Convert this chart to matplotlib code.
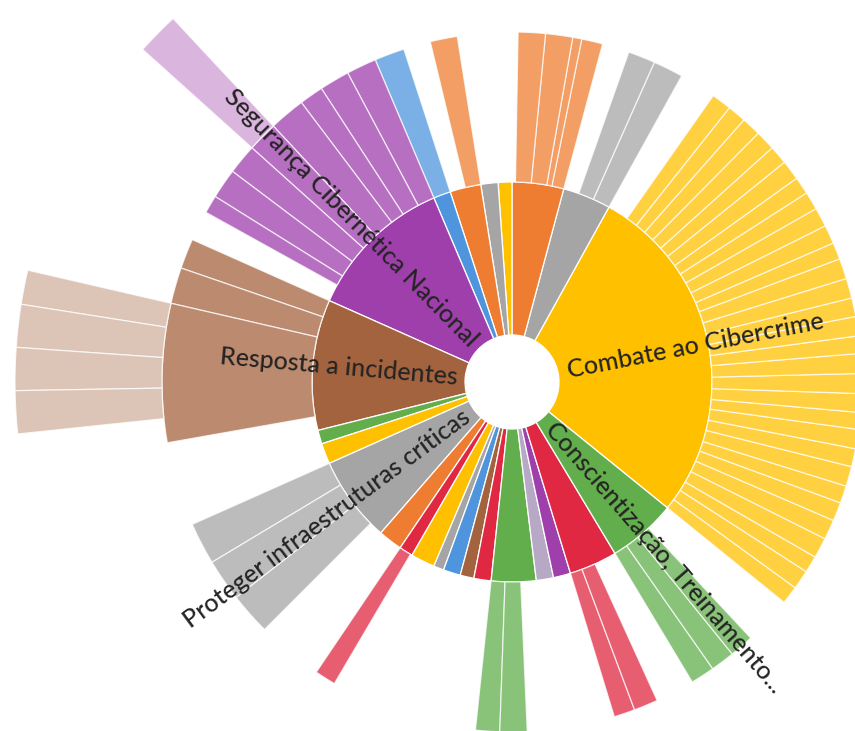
import numpy as np
import matplotlib.pyplot as plt
from matplotlib.colors import to_rgb

# ----------------------------
# Data (values are angular shares, in degrees)
# ----------------------------
start_angle = -39

cat_labels = ["Combate ao Cibercrime", "", "", "", "", "", "",
              "Segurança Cibernética Nacional", "Resposta a incidentes", "", "",
              "Proteger infraestruturas críticas", "", "", "", "", "", "", "", "",
              "", "", "", "Conscientização, Treinamento..."]
cat_values = [100, 14, 15, 4, 5, 9, 5, 43, 38, 4, 6, 25, 7, 4, 7, 3, 5, 4, 5, 13, 5, 5, 14, 20]
cat_colors = ['#FFC000', '#A5A5A5', '#EE7D31', '#FFC000', '#A5A5A5', '#EE7D31', '#4E95DD',
              '#9E3FAC', '#A4633F', '#62AE4C', '#FFC000', '#A5A5A5', '#EE7D31', '#E02842',
              '#FFC000', '#A5A5A5', '#4E95DD', '#A4633F', '#E02842', '#62AE4C', '#B7A8C6',
              '#9E3FAC', '#E02842', '#62AE4C']

# level 2 children, keyed by parent position in cat_values
sub_combate = [3.0, 3.2, 2.8, 3.4, 3.3, 3.1, 2.9, 3.3, 3.0, 3.2, 2.8, 3.1, 3.3, 3.3, 2.9,
               3.2, 3.1, 3.3, 3.4, 2.8, 3.1, 3.2, 3.0, 2.9, 3.3, 3.1, 3.3, 3.2, 3.1, 3.3]
sub_gray_top = [5, 4.5]
sub_orange_top = [3.5, 1.5, 4.5, 4.5]
sub_orange_small = [4.5]
sub_blue_top = [5]
sub_seguranca = [5, 5, 4, 6, 5, 5, 5, 3]
sub_resposta = [5, 6, 23]
sub_proteger = [7, 7, 7]
sub_red_small = [3.5]
sub_green_bottom = [4, 4.5]
sub_red_bottom = [3.5, 4]
sub_conscient = [4, 4, 4]

level2 = {0: sub_combate, 1: sub_gray_top, 2: sub_orange_top, 5: sub_orange_small,
          6: sub_blue_top, 7: sub_seguranca, 8: sub_resposta, 11: sub_proteger,
          13: sub_red_small, 19: sub_green_bottom, 22: sub_red_bottom, 23: sub_conscient}

# level 3 children, keyed by (parent, child)
sub3_seguranca = [5]
sub3_resposta = [4, 5, 5, 5]
level3 = {(7, 4): sub3_seguranca, (8, 2): sub3_resposta}

# ----------------------------
# Helpers
# ----------------------------
def lighten(c, f):
    r, g, b = to_rgb(c)
    return (r + (1 - r) * f, g + (1 - g) * f, b + (1 - b) * f)

R0, R1, R2, R3 = 47, 200, 350, 497

fig = plt.figure(figsize=(8.55, 7.31), dpi=100)
cx, cy = 512, 731 - 382
ax = fig.add_axes([(cx - 500) / 855, (cy - 500) / 731, 1000 / 855, 1000 / 731],
                  projection='polar')
ax.set_ylim(0, 500)
ax.set_axis_off()

edges = start_angle + np.concatenate([[0], np.cumsum(cat_values)])
ax.bar(np.radians(edges[:-1]), R1 - R0, width=np.radians(cat_values), bottom=R0,
       align='edge', color=cat_colors, edgecolor='white', linewidth=0.9)

for p, vals in level2.items():
    e2 = edges[p] + np.concatenate([[0], np.cumsum(vals)])
    ax.bar(np.radians(e2[:-1]), R2 - R1, width=np.radians(vals), bottom=R1,
           align='edge', color=[lighten(cat_colors[p], 0.25)] * len(vals),
           edgecolor=(1, 1, 1, 0.75), linewidth=0.9)
    for (pp, ci), vals3 in level3.items():
        if pp != p:
            continue
        e3 = e2[ci] + np.concatenate([[0], np.cumsum(vals3)])
        ax.bar(np.radians(e3[:-1]), R3 - R2, width=np.radians(vals3), bottom=R2,
               align='edge', color=[lighten(cat_colors[p], 0.62)] * len(vals3),
               edgecolor=(1, 1, 1, 0.75), linewidth=0.9)

# labels along the radius of each named category
for i, lab in enumerate(cat_labels):
    if not lab:
        continue
    mid = edges[i] + cat_values[i] / 2
    a = (mid + 180) % 360 - 180
    if -90 <= a <= 90:
        ax.text(np.radians(mid), 57, lab, rotation=a, rotation_mode='anchor',
                ha='left', va='center', fontsize=18, family='Lato',
                fontweight='medium', color='#252423')
    else:
        ax.text(np.radians(mid), 55, lab, rotation=a + 180, rotation_mode='anchor',
                ha='right', va='center', fontsize=18, family='Lato',
                fontweight='medium', color='#252423')

fig.savefig('out.png', dpi=100)
